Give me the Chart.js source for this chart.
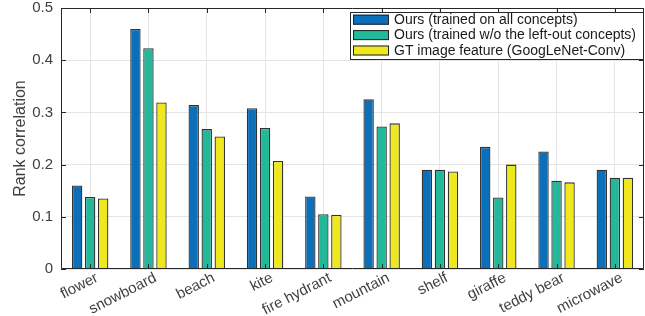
<!DOCTYPE html>
<html>
<head>
<meta charset="utf-8">
<script src="https://cdn.jsdelivr.net/npm/chart.js@4"></script>
<style>
  html, body { margin: 0; padding: 0; background: #fff; }
  canvas { display: block; }
</style>
</head>
<body>
<canvas id="chart" width="645" height="316"></canvas>
<script>
// Data
const categories = ['flower', 'snowboard', 'beach', 'kite', 'fire hydrant', 'mountain', 'shelf', 'giraffe', 'teddy bear', 'microwave'];
const seriesNames = ['Ours (trained on all concepts)', 'Ours (trained w/o the left-out concepts)', 'GT image feature (GoogLeNet-Conv)'];
const oursAll = [0.160, 0.460, 0.314, 0.308, 0.139, 0.325, 0.190, 0.234, 0.225, 0.190];
const oursLeftOut = [0.138, 0.423, 0.268, 0.270, 0.105, 0.273, 0.190, 0.137, 0.169, 0.175];
const gtFeature = [0.135, 0.319, 0.254, 0.207, 0.104, 0.279, 0.187, 0.200, 0.166, 0.175];
const yTicks = [0, 0.1, 0.2, 0.3, 0.4, 0.5];

const colors = ['#0B6FBA', '#22B99A', '#EFE81E'];
const FONT = "'Liberation Sans', Arial, Helvetica, sans-serif";
const AXIS = '#262626';

// Box frame + inward ticks (MATLAB style), drawn over the bars
const framePlugin = {
    id: 'frame',
    afterDatasetsDraw(chart) {
        const { ctx, chartArea: a, scales: { x, y } } = chart;
        const t = 5;
        ctx.save();
        ctx.strokeStyle = AXIS;
        ctx.lineWidth = 1;
        ctx.beginPath();
        ctx.rect(a.left + 0.5, a.top + 0.5, a.right - a.left - 1, a.bottom - a.top - 1);
        categories.forEach((c, i) => {
            const px = Math.round(x.getPixelForValue(i)) + 0.5;
            ctx.moveTo(px, a.top); ctx.lineTo(px, a.top + t);
            ctx.moveTo(px, a.bottom); ctx.lineTo(px, a.bottom - t);
        });
        yTicks.forEach(v => {
            const py = Math.round(y.getPixelForValue(v)) + 0.5;
            ctx.moveTo(a.left, py); ctx.lineTo(a.left + t, py);
            ctx.moveTo(a.right, py); ctx.lineTo(a.right - t, py);
        });
        ctx.stroke();
        ctx.restore();
    }
};

// Boxed legend inside the top-right corner
const boxLegend = {
    id: 'boxLegend',
    afterDraw(chart) {
        const { ctx, chartArea: a } = chart;
        const w = 294, rowH = 15.4, h = 48;
        const x0 = a.right - w, y0 = a.top + 4;
        ctx.save();
        ctx.fillStyle = '#fff';
        ctx.fillRect(x0, y0, w, h);
        ctx.strokeStyle = '#262626';
        ctx.lineWidth = 1;
        ctx.strokeRect(x0 + 0.5, y0 + 0.5, w - 1, h - 1);
        ctx.font = '14px ' + FONT;
        ctx.textBaseline = 'middle';
        seriesNames.forEach((name, i) => {
            const cy = y0 + 7.7 + rowH * i;
            ctx.fillStyle = colors[i];
            ctx.fillRect(x0 + 3, cy - 5, 36, 10);
            ctx.strokeStyle = '#222';
            ctx.strokeRect(x0 + 3.5, cy - 4.5, 35, 9);
            ctx.fillStyle = '#1a1a1a';
            ctx.fillText(name, x0 + 44, cy + 0.5);
        });
        ctx.restore();
    }
};

const makeSet = (label, data, i) => ({
    label,
    data,
    backgroundColor: colors[i],
    borderColor: '#333',
    borderWidth: 1.3,
    categoryPercentage: 0.67,
    barPercentage: 0.8,
});

new Chart(document.getElementById('chart'), {
    type: 'bar',
    data: {
        labels: categories,
        datasets: [
            makeSet(seriesNames[0], oursAll, 0),
            makeSet(seriesNames[1], oursLeftOut, 1),
            makeSet(seriesNames[2], gtFeature, 2),
        ]
    },
    options: {
        responsive: false,
        animation: false,
        layout: { padding: { top: 8, right: 1, left: 0, bottom: 0 } },
        plugins: {
            legend: { display: false },
            tooltip: { enabled: false }
        },
        scales: {
            x: {
                offset: true,
                grid: { offset: false, color: '#e5e5e5', drawTicks: false },
                border: { display: false },
                ticks: {
                    color: '#404040',
                    font: { family: FONT, size: 15 },
                    minRotation: 27,
                    maxRotation: 27,
                    autoSkip: false,
                    padding: 0,
                    labelOffset: 7
                },
                afterFit: s => { s.height = 47; s.paddingLeft = 0; s.paddingRight = 0; }
            },
            y: {
                min: 0,
                max: 0.5,
                grid: { color: '#e5e5e5', drawTicks: false },
                border: { display: false },
                ticks: {
                    stepSize: 0.1,
                    color: '#404040',
                    font: { family: FONT, size: 15 },
                    padding: 8,
                    callback: v => String(Math.round(v * 10) / 10)
                },
                title: {
                    display: true,
                    text: 'Rank correlation',
                    color: '#404040',
                    font: { family: FONT, size: 16 },
                    padding: { top: 11, bottom: 0 }
                },
                afterFit: s => { s.width = 61; s.paddingTop = 0; s.paddingBottom = 0; }
            }
        }
    },
    plugins: [framePlugin, boxLegend]
});
</script>
</body>
</html>
